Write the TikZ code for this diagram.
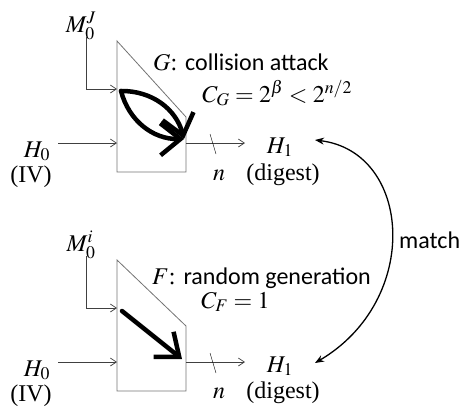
\documentclass[tikz,border=0pt]{standalone}
\usepackage{mathptmx}
\usepackage[no-math]{fontspec}
\setmainfont{Liberation Serif}
\newfontfamily\lblfont{Carlito}
\usetikzlibrary{arrows.meta, positioning}

\begin{document}
\begin{tikzpicture}[x=1pt, y=-1pt, font=\fontsize{24}{26}\selectfont,
    blk/.style={draw=black!55, line width=0.8pt},
    sig/.style={-{Straight Barb[length=6pt, width=8pt]}, draw=black!75, line width=0.7pt},
    thk/.style={-{Straight Barb[length=20pt, width=32pt]}, line width=4.5pt, line cap=round, line join=round},
    match/.style={{Stealth[length=9pt, width=7pt]}-{Stealth[length=9pt, width=7pt]}, line width=1.3pt},
    txt/.style={inner sep=0pt, anchor=base}]
    \useasboundingbox (0,0) rectangle (461,407);

    % Bloc du haut : attaque par collision G
    \draw[blk] (117,41) -- (186,117) -- (186,172) -- (117,172) -- cycle;
    \coordinate (inJ) at (117,89);
    \coordinate (inHa) at (117,143);
    \coordinate (outa) at (186,143);
    \node[txt] (mJ) at (81,32) {$M_0^J$};
    \node[txt] (h0a) at (37,157) {$H_0$};
    \node[txt] (iva) at (31,182) {(IV)};
    \node[txt] (h1a) at (280,153) {$H_1$};
    \node[txt] (dga) at (283,180) {(digest)};
    \node[txt] (na) at (219,180) {$n$};
    \node[txt, anchor=base west] (ga) at (153,70) {$G$: {\lblfont collision attack}};
    \node[txt, anchor=base west] (cga) at (202,102) {$C_G = 2^\beta < 2^{n/2}$};
    \draw[sig] ([xshift=5pt, yshift=3pt]mJ.south) |- (inJ);
    \draw[sig] (58,143) -- (inHa);
    \draw[sig] (outa) -- (245,143);
    \draw (210,134) -- (216,154);
    \draw[thk] (121,91) to[bend left=38] (184,139);
    \draw[thk] (121,91) to[bend right=38] (184,139);

    % Bloc du bas : génération aléatoire F
    \draw[blk] (117,260) -- (186,326) -- (186,391) -- (117,391) -- cycle;
    \coordinate (inI) at (117,308);
    \coordinate (inHb) at (117,362);
    \coordinate (outb) at (186,362);
    \node[txt] (mI) at (81,251) {$M_0^i$};
    \node[txt] (h0b) at (37,376) {$H_0$};
    \node[txt] (ivb) at (31,401) {(IV)};
    \node[txt] (h1b) at (280,372) {$H_1$};
    \node[txt] (dgb) at (283,398) {(digest)};
    \node[txt] (nb) at (219,398) {$n$};
    \node[txt, anchor=base west] (fb) at (152,284) {$F$: {\lblfont random generation}};
    \node[txt, anchor=base west] (cfb) at (201,308) {$C_F = 1$};
    \draw[sig] ([xshift=5pt, yshift=3pt]mI.south) |- (inI);
    \draw[sig] (58,362) -- (inHb);
    \draw[sig] (outb) -- (245,362);
    \draw (210,353) -- (216,373);
    \draw[thk] (122,311) -- (182,359);

    % Correspondance des deux sorties
    \coordinate (tipa) at (315,140);
    \coordinate (tipb) at (315,363);
    \draw[match] (tipa) .. controls (412,152) and (422,300) .. (tipb);
    \node[txt, anchor=base west] (mt) at (399,248) {\lblfont match};
\end{tikzpicture}
\end{document}
